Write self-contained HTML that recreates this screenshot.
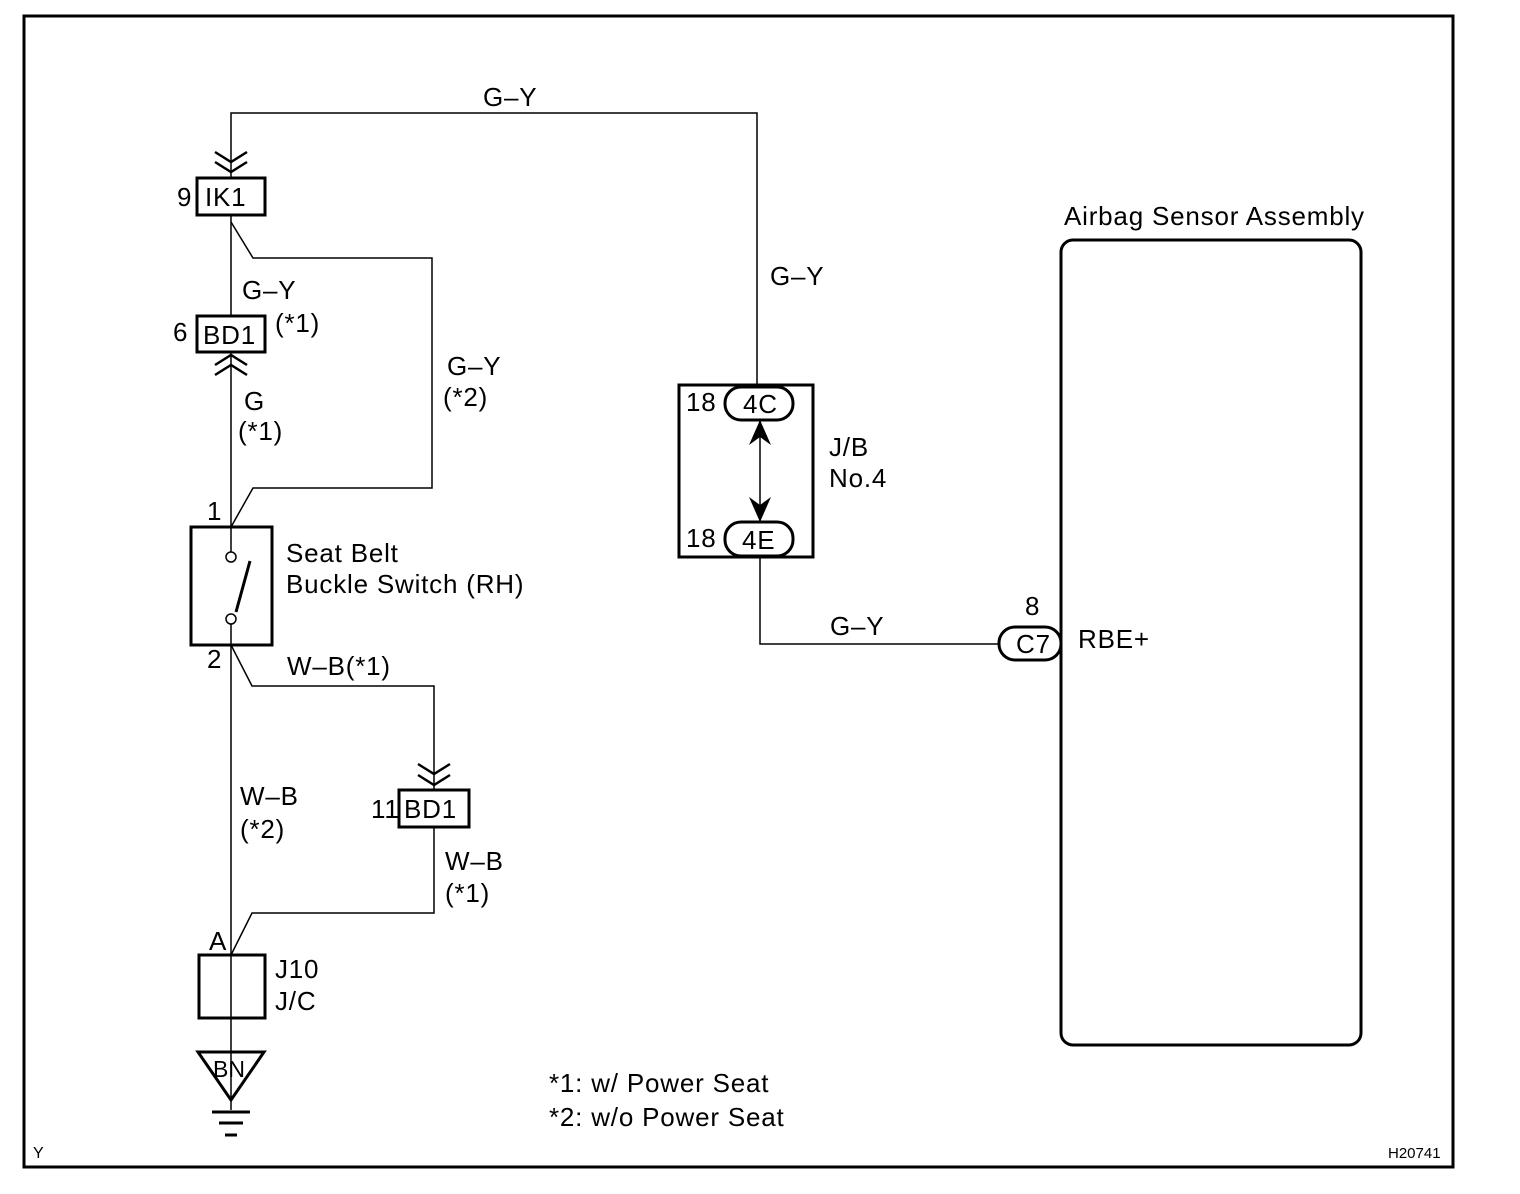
<!DOCTYPE html>
<html><head><meta charset="utf-8"><style>
html,body{margin:0;padding:0;background:#fff;}
svg{display:block;}
text{font-family:"Liberation Sans",Arial,sans-serif;fill:#000;}
</style></head><body>
<svg width="1520" height="1194" viewBox="0 0 1520 1194" xmlns="http://www.w3.org/2000/svg">
<rect x="0" y="0" width="1520" height="1194" fill="#fff"/>
<rect x="24" y="16" width="1429" height="1151" fill="none" stroke="#000" stroke-width="3"/>
<g fill="none" stroke="#000" stroke-width="1.5">
<polyline points="231,178 231,113 757,113 757,387"/>
<line x1="231" y1="215" x2="231" y2="316"/>
<polyline points="231,222 253,258 432,258 432,488 253,488 231,527"/>
<line x1="231" y1="352" x2="231" y2="527"/>
<line x1="231" y1="527" x2="231" y2="552"/>
<line x1="231" y1="624" x2="231" y2="955"/>
<polyline points="231,645 252,686 434,686 434,790"/>
<polyline points="434,827 434,913 252,913 231,955"/>
<line x1="231" y1="955" x2="231" y2="1110"/>
<line x1="760" y1="420" x2="760" y2="522"/>
<polyline points="760,556 760,644 999,644"/>
</g>
<g fill="none" stroke="#000" stroke-width="3">
<rect x="197" y="178" width="68" height="37"/>
<rect x="197" y="316" width="68" height="36"/>
<rect x="191" y="527" width="81" height="118"/>
<rect x="399" y="790" width="70" height="37"/>
<rect x="199" y="955" width="66" height="63"/>
<rect x="679" y="385" width="134" height="172"/>
<rect x="725" y="387" width="68" height="33" rx="16"/>
<rect x="725" y="522" width="68" height="34" rx="16"/>
<rect x="999" y="627" width="62" height="33" rx="16"/>
<rect x="1061" y="240" width="300" height="805" rx="12"/>
<polygon points="198,1052 264,1052 231,1100"/>
<line x1="236" y1="612" x2="250" y2="561"/>
<polyline points="215,152 231,162 247,152" stroke-width="2.5"/>
<polyline points="215,162 231,172 247,162" stroke-width="2.5"/>
<polyline points="215,365 231,355 247,365" stroke-width="2.5"/>
<polyline points="215,375 231,365 247,375" stroke-width="2.5"/>
<polyline points="418,764 434,774 450,764" stroke-width="2.5"/>
<polyline points="418,775 434,785 450,775" stroke-width="2.5"/>
</g>
<g stroke="#000" stroke-width="3">
<line x1="212" y1="1112" x2="250" y2="1112"/>
<line x1="219" y1="1123" x2="243" y2="1123"/>
<line x1="225" y1="1135" x2="237" y2="1135"/>
</g>
<circle cx="231" cy="557" r="5" fill="#fff" stroke="#000" stroke-width="1.5"/>
<circle cx="231" cy="619" r="5" fill="#fff" stroke="#000" stroke-width="1.5"/>
<polygon points="749,445 760,420 771,445 760,437" fill="#000"/>
<polygon points="749,497 760,505 771,497 760,522" fill="#000"/>
<g font-size="26" letter-spacing="0.8">
<text x="483" y="106">G–Y</text>
<text x="177" y="206">9</text><text x="205" y="206">IK1</text>
<text x="242" y="299">G–Y</text>
<text x="275" y="332">(*1)</text>
<text x="173" y="341">6</text><text x="203" y="344">BD1</text>
<text x="244" y="410">G</text>
<text x="238" y="440">(*1)</text>
<text x="447" y="375">G–Y</text>
<text x="443" y="406">(*2)</text>
<text x="207" y="520">1</text>
<text x="286" y="562">Seat Belt</text>
<text x="286" y="593">Buckle Switch (RH)</text>
<text x="207" y="668">2</text>
<text x="287" y="675">W–B(*1)</text>
<text x="240" y="805">W–B</text>
<text x="240" y="838">(*2)</text>
<text x="371" y="818">11</text><text x="404" y="818">BD1</text>
<text x="445" y="870">W–B</text>
<text x="445" y="902">(*1)</text>
<text x="209" y="950">A</text>
<text x="275" y="978">J10</text>
<text x="275" y="1010">J/C</text>
<text x="213" y="1077" font-size="23" letter-spacing="0">BN</text>
<text x="770" y="285">G–Y</text>
<text x="686" y="411">18</text><text x="743" y="413">4C</text>
<text x="829" y="456">J/B</text>
<text x="829" y="487">No.4</text>
<text x="686" y="547">18</text><text x="742" y="549">4E</text>
<text x="830" y="635">G–Y</text>
<text x="1025" y="615">8</text>
<text x="1016" y="653">C7</text>
<text x="1078" y="648">RBE+</text>
<text x="1064" y="225">Airbag Sensor Assembly</text>
<text x="549" y="1092">*1: w/ Power Seat</text>
<text x="549" y="1126">*2: w/o Power Seat</text>
</g>
<text x="33" y="1158" font-size="16">Y</text>
<text x="1388" y="1158" font-size="15">H20741</text>
</svg>
</body></html>
